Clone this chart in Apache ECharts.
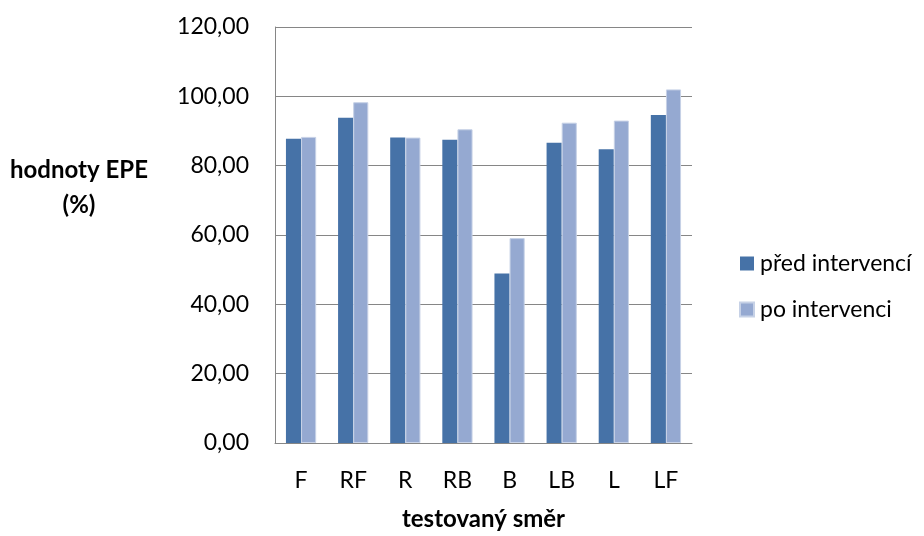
<!DOCTYPE html>
<html>
<head>
<meta charset="utf-8">
<script src="https://cdn.jsdelivr.net/npm/echarts@6/dist/echarts.min.js"></script>
<style>
  html, body { margin: 0; padding: 0; background: #fff; }
  #chart { width: 924px; height: 536px; }
</style>
</head>
<body>
<div id="chart"></div>
<script>
// Testované směry
const categories = ['F', 'RF', 'R', 'RB', 'B', 'LB', 'L', 'LF'];
// Hodnoty EPE (%) před a po intervenci
const predIntervenci = [87.8, 93.8, 88.1, 87.5, 48.9, 86.6, 84.7, 94.6];
const poIntervenci = [88.3, 98.3, 88.1, 90.5, 59.1, 92.4, 93.0, 102.0];
const seriesNames = ['před intervencí', 'po intervenci'];
const yTicks = { min: 0, max: 120, interval: 20 };

const FONT = 'Lato, "Open Sans", sans-serif';
const FS = 23;
const FS_TITLE = 24;
const chart = echarts.init(document.getElementById('chart'), null, { renderer: 'canvas' });

chart.setOption({
  animation: false,
  backgroundColor: '#ffffff',
  textStyle: { fontFamily: FONT },
  grid: { left: 275, right: 232, top: 27, bottom: 86.5, containLabel: false },
  legend: {
    orient: 'vertical',
    left: 734,
    top: 247,
    itemWidth: 14,
    itemHeight: 14,
    itemGap: 23,
    icon: 'rect',
    textStyle: { fontFamily: FONT, fontSize: FS, color: '#000', padding: [0, 0, 0, 1] },
    data: seriesNames
  },
  xAxis: {
    type: 'category',
    data: categories,
    axisLine: { lineStyle: { color: '#868686', width: 1 } },
    axisTick: { show: false },
    axisLabel: { fontFamily: FONT, fontSize: FS, color: '#000', margin: 26 },
    name: 'testovaný směr',
    nameLocation: 'middle',
    nameGap: 64,
    nameTextStyle: { fontFamily: FONT, fontSize: FS_TITLE, fontWeight: 'bold', color: '#000' }
  },
  yAxis: {
    type: 'value',
    min: yTicks.min,
    max: yTicks.max,
    interval: yTicks.interval,
    axisLine: { show: true, lineStyle: { color: '#868686', width: 1 } },
    axisTick: { show: false },
    splitLine: { lineStyle: { color: '#868686', width: 1 } },
    axisLabel: {
      fontFamily: FONT, fontSize: FS, color: '#000', margin: 26,
      formatter: v => v.toFixed(2).replace('.', ',')
    }
  },
  graphic: [{
    type: 'text',
    style: {
      x: 79, y: 188,
      text: 'hodnoty EPE\n(%)',
      textAlign: 'center',
      textVerticalAlign: 'middle',
      font: 'bold ' + FS_TITLE + 'px ' + FONT,
      lineHeight: 35,
      fill: '#000'
    }
  }],
  series: [
    {
      name: seriesNames[0],
      type: 'bar',
      data: predIntervenci,
      barGap: '0%',
      barCategoryGap: '42%',
      itemStyle: { color: '#4672A7' }
    },
    {
      name: seriesNames[1],
      type: 'bar',
      data: poIntervenci,
      barGap: '0%',
      barCategoryGap: '42%',
      itemStyle: { color: '#95A9D1', borderColor: '#C6D1E6', borderWidth: 1 }
    }
  ]
});
</script>
</body>
</html>
